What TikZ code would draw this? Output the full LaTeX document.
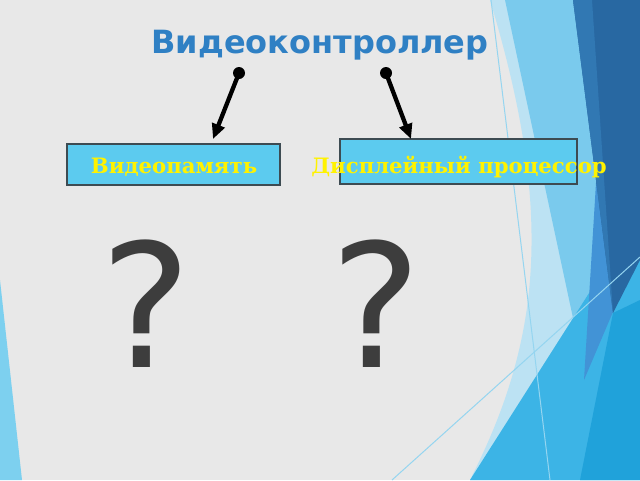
\documentclass[tikz,border=0pt]{standalone}
\usepackage{fontspec}
\newfontfamily\titlefont{DejaVu Sans}
\newfontfamily\boxfont{DejaVu Serif}
\usetikzlibrary{arrows.meta}
\definecolor{bggray}{HTML}{E8E8E8}
\definecolor{titleblue}{HTML}{2F80C4}
\definecolor{boxfill}{HTML}{5CCBEF}
\definecolor{boxline}{HTML}{3D4B52}
\definecolor{qmgray}{HTML}{3D3D3D}
\definecolor{wedgelight}{HTML}{BCE2F3}
\definecolor{wedgemid}{HTML}{7ACAED}
\definecolor{cyanA}{HTML}{3CB4E6}
\definecolor{cyanB}{HTML}{20A2DA}
\definecolor{bandblue}{HTML}{4293D6}
\definecolor{navy}{HTML}{2868A2}
\definecolor{navylight}{HTML}{3178B3}
\definecolor{thinline}{HTML}{95D5F0}
\definecolor{sliver}{HTML}{7DD0EF}
\tikzset{
  boxshape/.style={draw=boxline, fill=boxfill, line width=1.2pt, inner sep=0pt, outer sep=0pt},
  boxtext/.style={text=yellow, font=\boxfont\bfseries\fontsize{21.2}{25}\selectfont, inner sep=0pt},
  dotshape/.style={circle, fill=black, minimum size=12pt, inner sep=0pt},
  arr/.style={line width=4.3pt, -{Triangle[length=15pt,width=13pt]}},
  qmark/.style={text=qmgray, font=\titlefont\fontsize{172}{190}\selectfont, inner sep=0pt},
}
\begin{document}
\begin{tikzpicture}[x=1pt,y=-1pt]
\useasboundingbox (0,0) rectangle (640,480);
% background
\fill[bggray] (0,0) rectangle (640,480);
\fill[sliver] (0,280) -- (22,480) -- (0,480) -- cycle;
% right decoration
\fill[wedgelight] (490,0) .. controls (520,100) and (540,200) .. (528,300)
   .. controls (518,380) and (490,440) .. (470,480) -- (640,480) -- (640,0) -- cycle;
\fill[wedgemid] (505,0) -- (575,0) -- (613,313) -- (573,318) -- cycle;
\fill[cyanA] (470,480) -- (640,213) -- (640,480) -- cycle;
\fill[cyanB] (580,480) -- (613,313) -- (640,300) -- (640,480) -- cycle;
\fill[bandblue] (598,150) -- (618,300) -- (584,380) -- cycle;
\fill[navy] (573,0) -- (640,0) -- (640,260) -- (613,313) -- cycle;
\fill[navylight] (573,0) -- (592,0) -- (613,313) -- cycle;
\draw[thinline, line width=1pt] (392,480) -- (640,257);
\draw[thinline, line width=1pt] (491,0) -- (550,480);
% title
\node[anchor=base, inner sep=0pt, text=titleblue, font=\titlefont\bfseries\fontsize{32}{38}\selectfont] (title) at (320,53) {Видеоконтроллер};
% boxes
\node[boxshape, minimum width=213pt, minimum height=41pt] (vp) at (173.5,164.5) {};
\node[boxshape, minimum width=237pt, minimum height=45pt] (dp) at (458.5,161.5) {};
\node[boxtext, anchor=base] (vpt) at (174,173) {Видеопамять};
\node[boxtext, anchor=base] (dpt) at (459,173) {Дисплейный процессор};
% dots and arrows
\node[dotshape] (d1) at (239,73) {};
\node[dotshape] (d2) at (386,73) {};
\coordinate (t1) at (213,139);
\coordinate (t2) at (411,139);
\draw[arr] (d1.center) -- (t1);
\draw[arr] (d2.center) -- (t2);
% question marks
\node[qmark, anchor=base] (q1) at (146,367) {?};
\node[qmark, anchor=base] (q2) at (376,367) {?};
\end{tikzpicture}
\end{document}
